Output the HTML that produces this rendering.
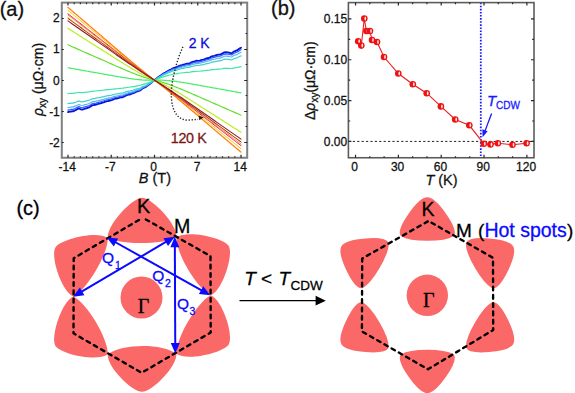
<!DOCTYPE html><html><head><meta charset="utf-8"><style>html,body{margin:0;padding:0;background:#fff;overflow:hidden}svg{display:block}text{font-family:"Liberation Sans",sans-serif;stroke-width:0.28px}</style></head><body>
<svg width="575" height="393" viewBox="0 0 575 393">
<rect width="575" height="393" fill="#fff"/>
<g fill="none" stroke-linejoin="round" stroke-linecap="round">
<polyline points="67.98,112.06 69.06,111.77 70.14,111.63 71.22,111.47 72.31,111.32 73.39,111.25 74.47,110.63 75.55,110.10 76.63,109.54 77.71,108.94 78.79,108.38 79.88,108.92 80.96,109.32 82.04,109.61 83.12,109.30 84.20,108.93 85.28,108.53 86.37,108.41 87.45,107.86 88.53,107.57 89.61,107.03 90.69,106.33 91.77,105.66 92.85,105.15 93.94,105.02 95.02,104.81 96.10,104.52 97.18,104.08 98.26,103.86 99.34,103.54 100.42,103.35 101.51,102.98 102.59,102.64 103.67,102.30 104.75,101.82 105.83,101.56 106.91,101.09 108.00,100.98 109.08,100.73 110.16,100.60 111.24,100.21 112.32,99.81 113.40,99.35 114.48,98.94 115.57,98.60 116.65,98.48 117.73,98.32 118.81,97.88 119.89,97.49 120.97,97.31 122.05,97.24 123.14,97.01 124.22,96.36 125.30,95.94 126.38,95.24 127.46,94.94 128.54,94.54 129.63,94.49 130.71,94.07 131.79,93.71 132.87,93.34 133.95,92.96 135.03,92.48 136.11,91.77 137.20,91.36 138.28,91.21 139.36,90.72 140.44,90.35 141.52,89.27 142.60,88.56 143.69,87.80 144.77,87.36 145.85,86.89 146.93,86.05 148.01,85.22 149.09,84.39 150.17,83.62 151.26,82.71 152.34,81.86 153.42,81.01 154.50,80.17 155.58,79.30 156.66,78.43 157.74,77.61 158.83,76.82 159.91,76.10 160.99,75.34 162.07,74.52 163.15,73.79 164.23,73.05 165.31,72.54 166.40,71.93 167.48,71.25 168.56,70.65 169.64,70.10 170.72,69.62 171.80,69.00 172.89,68.37 173.97,67.96 175.05,67.81 176.13,67.41 177.21,66.97 178.29,66.24 179.37,66.04 180.46,65.43 181.54,65.35 182.62,64.81 183.70,64.77 184.78,64.35 185.86,64.01 186.94,63.73 188.03,63.64 189.11,63.57 190.19,63.17 191.27,62.30 192.35,62.03 193.43,61.79 194.52,61.58 195.60,61.03 196.68,60.77 197.76,60.83 198.84,60.83 199.92,60.59 201.00,60.16 202.09,59.93 203.17,59.76 204.25,59.38 205.33,58.86 206.41,58.46 207.49,58.25 208.57,58.02 209.66,57.52 210.74,56.97 211.82,56.33 212.90,56.07 213.98,55.89 215.06,55.68 216.15,55.26 217.23,54.89 218.31,54.63 219.39,54.64 220.47,54.48 221.55,53.98 222.63,53.37 223.72,52.64 224.80,52.32 225.88,52.29 226.96,52.35 228.04,52.42 229.12,52.63 230.20,53.00 231.29,53.26 232.37,52.78 233.45,51.89 234.53,51.28 235.61,50.84 236.69,50.45 237.78,49.88 238.86,49.00 239.94,48.33 241.02,47.77" stroke="#0814d8" stroke-width="1.9"/>
<polyline points="67.98,110.06 69.06,109.78 70.14,109.66 71.22,109.51 72.31,109.36 73.39,109.30 74.47,108.72 75.55,108.22 76.63,107.70 77.71,107.14 78.79,106.62 79.88,107.12 80.96,107.49 82.04,107.76 83.12,107.47 84.20,107.12 85.28,106.75 86.37,106.64 87.45,106.12 88.53,105.86 89.61,105.35 90.69,104.70 91.77,104.07 92.85,103.60 93.94,103.47 95.02,103.27 96.10,103.01 97.18,102.59 98.26,102.38 99.34,102.09 100.42,101.91 101.51,101.56 102.59,101.25 103.67,100.93 104.75,100.48 105.83,100.24 106.91,99.79 108.00,99.70 109.08,99.46 110.16,99.34 111.24,98.97 112.32,98.60 113.40,98.17 114.48,97.79 115.57,97.47 116.65,97.36 117.73,97.20 118.81,96.80 119.89,96.43 120.97,96.26 122.05,96.19 123.14,95.97 124.22,95.37 125.30,94.98 126.38,94.32 127.46,94.04 128.54,93.66 129.63,93.62 130.71,93.22 131.79,92.89 132.87,92.54 133.95,92.18 135.03,91.73 136.11,91.07 137.20,90.68 138.28,90.54 139.36,90.08 140.44,89.73 141.52,88.72 142.60,88.05 143.69,87.34 144.77,86.93 145.85,86.48 146.93,85.69 148.01,84.92 149.09,84.14 150.17,83.41 151.26,82.56 152.34,81.76 153.42,80.96 154.50,80.17 155.58,79.35 156.66,78.53 157.74,77.76 158.83,77.02 159.91,76.34 160.99,75.62 162.07,74.85 163.15,74.16 164.23,73.47 165.31,72.99 166.40,72.41 167.48,71.77 168.56,71.21 169.64,70.69 170.72,70.24 171.80,69.66 172.89,69.07 173.97,68.68 175.05,68.54 176.13,68.16 177.21,67.75 178.29,67.06 179.37,66.88 180.46,66.30 181.54,66.23 182.62,65.72 183.70,65.69 184.78,65.29 185.86,64.97 186.94,64.70 188.03,64.62 189.11,64.55 190.19,64.18 191.27,63.36 192.35,63.11 193.43,62.88 194.52,62.69 195.60,62.17 196.68,61.93 197.76,61.98 198.84,61.98 199.92,61.75 201.00,61.35 202.09,61.13 203.17,60.97 204.25,60.62 205.33,60.13 206.41,59.75 207.49,59.56 208.57,59.34 209.66,58.87 210.74,58.36 211.82,57.76 212.90,57.51 213.98,57.35 215.06,57.15 216.15,56.76 217.23,56.40 218.31,56.16 219.39,56.17 220.47,56.02 221.55,55.55 222.63,54.98 223.72,54.30 224.80,54.00 225.88,53.97 226.96,54.02 228.04,54.08 229.12,54.28 230.20,54.61 231.29,54.85 232.37,54.41 233.45,53.58 234.53,53.00 235.61,52.60 236.69,52.23 237.78,51.70 238.86,50.88 239.94,50.25 241.02,49.72" stroke="#3060ff" stroke-width="1.3"/>
<polyline points="67.98,107.60 69.06,107.35 70.14,107.23 71.22,107.09 72.31,106.96 73.39,106.91 74.47,106.37 75.55,105.92 76.63,105.45 77.71,104.93 78.79,104.46 79.88,104.92 80.96,105.26 82.04,105.51 83.12,105.24 84.20,104.93 85.28,104.58 86.37,104.48 87.45,104.02 88.53,103.77 89.61,103.31 90.69,102.71 91.77,102.14 92.85,101.71 93.94,101.60 95.02,101.42 96.10,101.18 97.18,100.80 98.26,100.61 99.34,100.34 100.42,100.18 101.51,99.86 102.59,99.57 103.67,99.28 104.75,98.88 105.83,98.65 106.91,98.25 108.00,98.16 109.08,97.94 110.16,97.83 111.24,97.50 112.32,97.16 113.40,96.77 114.48,96.42 115.57,96.13 116.65,96.03 117.73,95.89 118.81,95.52 119.89,95.18 120.97,95.03 122.05,94.97 123.14,94.77 124.22,94.21 125.30,93.86 126.38,93.25 127.46,93.00 128.54,92.66 129.63,92.62 130.71,92.25 131.79,91.94 132.87,91.62 133.95,91.30 135.03,90.88 136.11,90.27 137.20,89.92 138.28,89.78 139.36,89.36 140.44,89.03 141.52,88.10 142.60,87.49 143.69,86.83 144.77,86.45 145.85,86.02 146.93,85.30 148.01,84.58 149.09,83.85 150.17,83.18 151.26,82.39 152.34,81.65 153.42,80.91 154.50,80.17 155.58,79.41 156.66,78.65 157.74,77.93 158.83,77.25 159.91,76.61 160.99,75.95 162.07,75.24 163.15,74.60 164.23,73.96 165.31,73.51 166.40,72.98 167.48,72.39 168.56,71.88 169.64,71.39 170.72,70.98 171.80,70.45 172.89,69.90 173.97,69.55 175.05,69.41 176.13,69.07 177.21,68.69 178.29,68.06 179.37,67.90 180.46,67.37 181.54,67.30 182.62,66.84 183.70,66.81 184.78,66.44 185.86,66.15 186.94,65.91 188.03,65.84 189.11,65.78 190.19,65.43 191.27,64.69 192.35,64.46 193.43,64.25 194.52,64.08 195.60,63.61 196.68,63.39 197.76,63.44 198.84,63.44 199.92,63.23 201.00,62.87 202.09,62.67 203.17,62.52 204.25,62.20 205.33,61.76 206.41,61.42 207.49,61.25 208.57,61.04 209.66,60.62 210.74,60.16 211.82,59.61 212.90,59.38 213.98,59.23 215.06,59.05 216.15,58.70 217.23,58.38 218.31,58.16 219.39,58.16 220.47,58.03 221.55,57.60 222.63,57.09 223.72,56.47 224.80,56.20 225.88,56.17 226.96,56.22 228.04,56.28 229.12,56.46 230.20,56.77 231.29,56.99 232.37,56.59 233.45,55.83 234.53,55.30 235.61,54.93 236.69,54.60 237.78,54.11 238.86,53.37 239.94,52.80 241.02,52.32" stroke="#5ab4f4" stroke-width="1.2"/>
<polyline points="67.98,103.59 69.06,103.38 70.14,103.29 71.22,103.18 72.31,103.08 73.39,103.04 74.47,102.58 75.55,102.20 76.63,101.79 77.71,101.35 78.79,100.95 79.88,101.36 80.96,101.68 82.04,101.91 83.12,101.68 84.20,101.42 85.28,101.13 86.37,101.05 87.45,100.65 88.53,100.45 89.61,100.06 90.69,99.54 91.77,99.05 92.85,98.68 93.94,98.59 95.02,98.45 96.10,98.25 97.18,97.93 98.26,97.77 99.34,97.55 100.42,97.41 101.51,97.15 102.59,96.91 103.67,96.66 104.75,96.32 105.83,96.13 106.91,95.79 108.00,95.72 109.08,95.54 110.16,95.46 111.24,95.18 112.32,94.89 113.40,94.56 114.48,94.26 115.57,94.02 116.65,93.94 117.73,93.83 118.81,93.51 119.89,93.23 120.97,93.11 122.05,93.06 123.14,92.90 124.22,92.42 125.30,92.12 126.38,91.60 127.46,91.38 128.54,91.09 129.63,91.07 130.71,90.75 131.79,90.49 132.87,90.22 133.95,89.94 135.03,89.58 136.11,89.05 137.20,88.75 138.28,88.63 139.36,88.26 140.44,87.98 141.52,87.17 142.60,86.63 143.69,86.06 144.77,85.72 145.85,85.35 146.93,84.71 148.01,84.07 149.09,83.43 150.17,82.83 151.26,82.14 152.34,81.48 153.42,80.82 154.50,80.17 155.58,79.49 156.66,78.81 157.74,78.17 158.83,77.56 159.91,76.99 160.99,76.40 162.07,75.76 163.15,75.19 164.23,74.62 165.31,74.23 166.40,73.75 167.48,73.23 168.56,72.77 169.64,72.35 170.72,71.98 171.80,71.51 172.89,71.04 173.97,70.72 175.05,70.60 176.13,70.31 177.21,69.97 178.29,69.42 179.37,69.28 180.46,68.82 181.54,68.76 182.62,68.36 183.70,68.34 184.78,68.02 185.86,67.77 186.94,67.56 188.03,67.50 189.11,67.45 190.19,67.16 191.27,66.51 192.35,66.31 193.43,66.13 194.52,65.99 195.60,65.57 196.68,65.39 197.76,65.44 198.84,65.45 199.92,65.27 201.00,64.95 202.09,64.78 203.17,64.66 204.25,64.38 205.33,64.00 206.41,63.70 207.49,63.56 208.57,63.38 209.66,63.01 210.74,62.61 211.82,62.13 212.90,61.94 213.98,61.82 215.06,61.66 216.15,61.36 217.23,61.08 218.31,60.89 219.39,60.90 220.47,60.79 221.55,60.42 222.63,59.97 223.72,59.43 224.80,59.20 225.88,59.18 226.96,59.23 228.04,59.29 229.12,59.45 230.20,59.73 231.29,59.93 232.37,59.59 233.45,58.92 234.53,58.47 235.61,58.14 236.69,57.86 237.78,57.44 238.86,56.78 239.94,56.29 241.02,55.87" stroke="#3cd0c8" stroke-width="1.2"/>
<polyline points="67.98,93.60 69.06,93.50 70.14,93.44 71.22,93.38 72.31,93.32 73.39,93.28 74.47,93.07 75.55,92.90 76.63,92.72 77.71,92.52 78.79,92.34 79.88,92.48 80.96,92.58 82.04,92.66 83.12,92.54 84.20,92.42 85.28,92.28 86.37,92.23 87.45,92.05 88.53,91.94 89.61,91.76 90.69,91.54 91.77,91.32 92.85,91.15 93.94,91.09 95.02,91.01 96.10,90.91 97.18,90.76 98.26,90.68 99.34,90.57 100.42,90.49 101.51,90.36 102.59,90.24 103.67,90.12 104.75,89.96 105.83,89.87 106.91,89.71 108.00,89.66 109.08,89.56 110.16,89.51 111.24,89.37 112.32,89.23 113.40,89.07 114.48,88.93 115.57,88.81 116.65,88.75 117.73,88.68 118.81,88.53 119.89,88.38 120.97,88.31 122.05,88.26 123.14,88.16 124.22,87.94 125.30,87.78 126.38,87.54 127.46,87.41 128.54,87.25 129.63,87.20 130.71,87.03 131.79,86.87 132.87,86.71 133.95,86.54 135.03,86.33 136.11,86.05 137.20,85.85 138.28,85.72 139.36,85.49 140.44,85.28 141.52,84.85 142.60,84.52 143.69,84.17 144.77,83.90 145.85,83.61 146.93,83.21 148.01,82.80 149.09,82.38 150.17,81.97 151.26,81.51 152.34,81.07 153.42,80.62 154.50,80.17 155.58,79.72 156.66,79.27 157.74,78.83 158.83,78.42 159.91,78.02 160.99,77.63 162.07,77.22 163.15,76.85 164.23,76.48 165.31,76.20 166.40,75.89 167.48,75.58 168.56,75.29 169.64,75.03 170.72,74.80 171.80,74.53 172.89,74.27 173.97,74.08 175.05,73.97 176.13,73.80 177.21,73.61 178.29,73.35 179.37,73.25 180.46,73.02 181.54,72.96 182.62,72.77 183.70,72.73 184.78,72.57 185.86,72.44 186.94,72.33 188.03,72.28 189.11,72.24 190.19,72.09 191.27,71.81 192.35,71.71 193.43,71.62 194.52,71.54 195.60,71.35 196.68,71.26 197.76,71.26 198.84,71.24 199.92,71.15 201.00,71.01 202.09,70.92 203.17,70.85 204.25,70.72 205.33,70.55 206.41,70.41 207.49,70.34 208.57,70.25 209.66,70.09 210.74,69.91 211.82,69.70 212.90,69.60 213.98,69.54 215.06,69.46 216.15,69.32 217.23,69.19 218.31,69.10 219.39,69.09 220.47,69.02 221.55,68.86 222.63,68.66 223.72,68.43 224.80,68.32 225.88,68.29 226.96,68.30 228.04,68.30 229.12,68.35 230.20,68.45 231.29,68.51 232.37,68.35 233.45,68.07 234.53,67.87 235.61,67.72 236.69,67.59 237.78,67.41 238.86,67.13 239.94,66.91 241.02,66.73" stroke="#3ae6a8" stroke-width="1.2"/>
<polyline points="67.98,67.76 69.06,67.96 70.14,68.15 71.22,68.34 72.31,68.53 73.39,68.72 74.47,68.92 75.55,69.11 76.63,69.30 77.71,69.49 78.79,69.69 79.88,69.88 80.96,70.07 82.04,70.26 83.12,70.46 84.20,70.65 85.28,70.84 86.37,71.03 87.45,71.22 88.53,71.42 89.61,71.61 90.69,71.80 91.77,71.99 92.85,72.19 93.94,72.38 95.02,72.57 96.10,72.76 97.18,72.95 98.26,73.15 99.34,73.34 100.42,73.53 101.51,73.72 102.59,73.91 103.67,74.10 104.75,74.29 105.83,74.49 106.91,74.68 108.00,74.87 109.08,75.06 110.16,75.25 111.24,75.44 112.32,75.63 113.40,75.81 114.48,76.00 115.57,76.19 116.65,76.38 117.73,76.56 118.81,76.75 119.89,76.93 120.97,77.11 122.05,77.29 123.14,77.47 124.22,77.65 125.30,77.83 126.38,78.00 127.46,78.17 128.54,78.34 129.63,78.50 130.71,78.66 131.79,78.81 132.87,78.96 133.95,79.11 135.03,79.25 136.11,79.38 137.20,79.50 138.28,79.62 139.36,79.72 140.44,79.82 141.52,79.91 142.60,79.99 143.69,80.05 144.77,80.11 145.85,80.15 146.93,80.18 148.01,80.20 149.09,80.22 150.17,80.22 151.26,80.21 152.34,80.20 153.42,80.19 154.50,80.17 155.58,80.16 156.66,80.15 157.74,80.15 158.83,80.15 159.91,80.15 160.99,80.17 162.07,80.20 163.15,80.23 164.23,80.28 165.31,80.34 166.40,80.41 167.48,80.49 168.56,80.58 169.64,80.68 170.72,80.79 171.80,80.91 172.89,81.04 173.97,81.17 175.05,81.31 176.13,81.46 177.21,81.62 178.29,81.78 179.37,81.94 180.46,82.11 181.54,82.28 182.62,82.45 183.70,82.63 184.78,82.81 185.86,82.99 186.94,83.17 188.03,83.36 189.11,83.54 190.19,83.73 191.27,83.92 192.35,84.11 193.43,84.30 194.52,84.49 195.60,84.68 196.68,84.88 197.76,85.07 198.84,85.26 199.92,85.46 201.00,85.65 202.09,85.84 203.17,86.04 204.25,86.23 205.33,86.43 206.41,86.62 207.49,86.82 208.57,87.01 209.66,87.21 210.74,87.41 211.82,87.60 212.90,87.80 213.98,87.99 215.06,88.19 216.15,88.39 217.23,88.58 218.31,88.78 219.39,88.97 220.47,89.17 221.55,89.37 222.63,89.56 223.72,89.76 224.80,89.95 225.88,90.15 226.96,90.35 228.04,90.54 229.12,90.74 230.20,90.93 231.29,91.13 232.37,91.33 233.45,91.52 234.53,91.72 235.61,91.92 236.69,92.11 237.78,92.31 238.86,92.50 239.94,92.70 241.02,92.90" stroke="#44ee66" stroke-width="1.2"/>
<polyline points="67.98,44.80 69.06,45.28 70.14,45.76 71.22,46.23 72.31,46.71 73.39,47.19 74.47,47.67 75.55,48.14 76.63,48.62 77.71,49.10 78.79,49.58 79.88,50.05 80.96,50.53 82.04,51.01 83.12,51.48 84.20,51.96 85.28,52.44 86.37,52.92 87.45,53.39 88.53,53.87 89.61,54.35 90.69,54.83 91.77,55.30 92.85,55.78 93.94,56.26 95.02,56.74 96.10,57.21 97.18,57.69 98.26,58.17 99.34,58.64 100.42,59.12 101.51,59.60 102.59,60.07 103.67,60.55 104.75,61.03 105.83,61.50 106.91,61.98 108.00,62.45 109.08,62.93 110.16,63.40 111.24,63.88 112.32,64.35 113.40,64.83 114.48,65.30 115.57,65.77 116.65,66.25 117.73,66.72 118.81,67.19 119.89,67.66 120.97,68.12 122.05,68.59 123.14,69.06 124.22,69.52 125.30,69.98 126.38,70.44 127.46,70.90 128.54,71.35 129.63,71.80 130.71,72.25 131.79,72.69 132.87,73.13 133.95,73.56 135.03,73.98 136.11,74.40 137.20,74.82 138.28,75.22 139.36,75.62 140.44,76.00 141.52,76.38 142.60,76.75 143.69,77.11 144.77,77.45 145.85,77.79 146.93,78.12 148.01,78.43 149.09,78.74 150.17,79.04 151.26,79.33 152.34,79.61 153.42,79.89 154.50,80.17 155.58,80.45 156.66,80.73 157.74,81.01 158.83,81.30 159.91,81.59 160.99,81.90 162.07,82.21 163.15,82.53 164.23,82.86 165.31,83.20 166.40,83.56 167.48,83.92 168.56,84.30 169.64,84.68 170.72,85.07 171.80,85.47 172.89,85.88 173.97,86.30 175.05,86.72 176.13,87.15 177.21,87.58 178.29,88.02 179.37,88.46 180.46,88.91 181.54,89.36 182.62,89.81 183.70,90.26 184.78,90.72 185.86,91.18 186.94,91.64 188.03,92.11 189.11,92.57 190.19,93.03 191.27,93.50 192.35,93.97 193.43,94.44 194.52,94.91 195.60,95.38 196.68,95.85 197.76,96.32 198.84,96.79 199.92,97.26 201.00,97.73 202.09,98.20 203.17,98.67 204.25,99.15 205.33,99.62 206.41,100.09 207.49,100.56 208.57,101.04 209.66,101.51 210.74,101.98 211.82,102.46 212.90,102.93 213.98,103.40 215.06,103.87 216.15,104.35 217.23,104.82 218.31,105.29 219.39,105.77 220.47,106.24 221.55,106.72 222.63,107.19 223.72,107.66 224.80,108.14 225.88,108.61 226.96,109.08 228.04,109.56 229.12,110.03 230.20,110.50 231.29,110.98 232.37,111.45 233.45,111.92 234.53,112.40 235.61,112.87 236.69,113.34 237.78,113.82 238.86,114.29 239.94,114.77 241.02,115.24" stroke="#66dd33" stroke-width="1.2"/>
<polyline points="67.98,28.35 69.06,29.04 70.14,29.73 71.22,30.41 72.31,31.10 73.39,31.79 74.47,32.47 75.55,33.16 76.63,33.85 77.71,34.53 78.79,35.22 79.88,35.91 80.96,36.59 82.04,37.28 83.12,37.97 84.20,38.65 85.28,39.34 86.37,40.03 87.45,40.71 88.53,41.40 89.61,42.08 90.69,42.77 91.77,43.46 92.85,44.14 93.94,44.83 95.02,45.52 96.10,46.20 97.18,46.89 98.26,47.57 99.34,48.26 100.42,48.95 101.51,49.63 102.59,50.32 103.67,51.00 104.75,51.69 105.83,52.37 106.91,53.06 108.00,53.74 109.08,54.43 110.16,55.11 111.24,55.79 112.32,56.48 113.40,57.16 114.48,57.84 115.57,58.52 116.65,59.20 117.73,59.88 118.81,60.56 119.89,61.24 120.97,61.92 122.05,62.59 123.14,63.26 124.22,63.93 125.30,64.60 126.38,65.27 127.46,65.93 128.54,66.59 129.63,67.25 130.71,67.90 131.79,68.55 132.87,69.19 133.95,69.83 135.03,70.46 136.11,71.08 137.20,71.70 138.28,72.30 139.36,72.90 140.44,73.49 141.52,74.06 142.60,74.63 143.69,75.18 144.77,75.73 145.85,76.26 146.93,76.78 148.01,77.29 149.09,77.79 150.17,78.28 151.26,78.76 152.34,79.23 153.42,79.71 154.50,80.17 155.58,80.65 156.66,81.12 157.74,81.60 158.83,82.09 159.91,82.58 160.99,83.09 162.07,83.60 163.15,84.12 164.23,84.66 165.31,85.20 166.40,85.76 167.48,86.33 168.56,86.91 169.64,87.50 170.72,88.11 171.80,88.72 172.89,89.33 173.97,89.96 175.05,90.60 176.13,91.24 177.21,91.88 178.29,92.53 179.37,93.19 180.46,93.85 181.54,94.51 182.62,95.18 183.70,95.85 184.78,96.52 185.86,97.20 186.94,97.88 188.03,98.55 189.11,99.23 190.19,99.92 191.27,100.60 192.35,101.28 193.43,101.97 194.52,102.65 195.60,103.34 196.68,104.02 197.76,104.71 198.84,105.40 199.92,106.09 201.00,106.77 202.09,107.46 203.17,108.15 204.25,108.84 205.33,109.53 206.41,110.22 207.49,110.91 208.57,111.60 209.66,112.29 210.74,112.98 211.82,113.67 212.90,114.36 213.98,115.05 215.06,115.74 216.15,116.43 217.23,117.12 218.31,117.81 219.39,118.50 220.47,119.19 221.55,119.88 222.63,120.57 223.72,121.26 224.80,121.95 225.88,122.64 226.96,123.33 228.04,124.02 229.12,124.71 230.20,125.40 231.29,126.09 232.37,126.78 233.45,127.47 234.53,128.16 235.61,128.85 236.69,129.54 237.78,130.23 238.86,130.92 239.94,131.61 241.02,132.31" stroke="#bbee22" stroke-width="1.2"/>
<polyline points="67.98,17.49 69.06,18.29 70.14,19.09 71.22,19.89 72.31,20.69 73.39,21.49 74.47,22.29 75.55,23.09 76.63,23.89 77.71,24.69 78.79,25.48 79.88,26.28 80.96,27.08 82.04,27.88 83.12,28.68 84.20,29.48 85.28,30.28 86.37,31.08 87.45,31.88 88.53,32.68 89.61,33.47 90.69,34.27 91.77,35.07 92.85,35.87 93.94,36.67 95.02,37.47 96.10,38.27 97.18,39.07 98.26,39.87 99.34,40.66 100.42,41.46 101.51,42.26 102.59,43.06 103.67,43.86 104.75,44.66 105.83,45.46 106.91,46.25 108.00,47.05 109.08,47.85 110.16,48.65 111.24,49.45 112.32,50.24 113.40,51.04 114.48,51.84 115.57,52.64 116.65,53.43 117.73,54.23 118.81,55.02 119.89,55.82 120.97,56.61 122.05,57.41 123.14,58.20 124.22,59.00 125.30,59.79 126.38,60.58 127.46,61.37 128.54,62.16 129.63,62.94 130.71,63.73 131.79,64.51 132.87,65.29 133.95,66.07 135.03,66.85 136.11,67.62 137.20,68.39 138.28,69.16 139.36,69.92 140.44,70.68 141.52,71.44 142.60,72.19 143.69,72.93 144.77,73.68 145.85,74.41 146.93,75.15 148.01,75.87 149.09,76.60 150.17,77.32 151.26,78.03 152.34,78.75 153.42,79.46 154.50,80.17 155.58,80.88 156.66,81.58 157.74,82.29 158.83,83.00 159.91,83.71 160.99,84.43 162.07,85.15 163.15,85.87 164.23,86.60 165.31,87.34 166.40,88.08 167.48,88.82 168.56,89.57 169.64,90.32 170.72,91.07 171.80,91.83 172.89,92.60 173.97,93.36 175.05,94.13 176.13,94.90 177.21,95.68 178.29,96.45 179.37,97.23 180.46,98.01 181.54,98.79 182.62,99.57 183.70,100.35 184.78,101.14 185.86,101.92 186.94,102.71 188.03,103.49 189.11,104.28 190.19,105.07 191.27,105.86 192.35,106.65 193.43,107.44 194.52,108.22 195.60,109.01 196.68,109.80 197.76,110.59 198.84,111.38 199.92,112.17 201.00,112.96 202.09,113.75 203.17,114.55 204.25,115.34 205.33,116.13 206.41,116.92 207.49,117.71 208.57,118.50 209.66,119.29 210.74,120.08 211.82,120.87 212.90,121.66 213.98,122.45 215.06,123.25 216.15,124.04 217.23,124.83 218.31,125.62 219.39,126.41 220.47,127.20 221.55,127.99 222.63,128.78 223.72,129.58 224.80,130.37 225.88,131.16 226.96,131.95 228.04,132.74 229.12,133.53 230.20,134.32 231.29,135.11 232.37,135.90 233.45,136.70 234.53,137.49 235.61,138.28 236.69,139.07 237.78,139.86 238.86,140.65 239.94,141.44 241.02,142.24" stroke="#e0d800" stroke-width="1.0"/>
<polyline points="67.98,10.36 69.06,11.25 70.14,12.13 71.22,13.02 72.31,13.91 73.39,14.80 74.47,15.69 75.55,16.58 76.63,17.46 77.71,18.35 78.79,19.24 79.88,20.13 80.96,21.02 82.04,21.90 83.12,22.79 84.20,23.68 85.28,24.57 86.37,25.46 87.45,26.35 88.53,27.23 89.61,28.12 90.69,29.01 91.77,29.90 92.85,30.79 93.94,31.67 95.02,32.56 96.10,33.45 97.18,34.34 98.26,35.23 99.34,36.11 100.42,37.00 101.51,37.89 102.59,38.78 103.67,39.67 104.75,40.55 105.83,41.44 106.91,42.33 108.00,43.22 109.08,44.10 110.16,44.99 111.24,45.88 112.32,46.76 113.40,47.65 114.48,48.54 115.57,49.42 116.65,50.31 117.73,51.20 118.81,52.08 119.89,52.96 120.97,53.85 122.05,54.73 123.14,55.62 124.22,56.50 125.30,57.38 126.38,58.26 127.46,59.14 128.54,60.02 129.63,60.89 130.71,61.77 131.79,62.64 132.87,63.51 133.95,64.38 135.03,65.24 136.11,66.11 137.20,66.97 138.28,67.82 139.36,68.67 140.44,69.52 141.52,70.37 142.60,71.21 143.69,72.04 144.77,72.87 145.85,73.70 146.93,74.52 148.01,75.34 149.09,76.15 150.17,76.96 151.26,77.77 152.34,78.57 153.42,79.37 154.50,80.17 155.58,80.96 156.66,81.75 157.74,82.54 158.83,83.33 159.91,84.12 160.99,84.92 162.07,85.72 163.15,86.53 164.23,87.34 165.31,88.15 166.40,88.97 167.48,89.80 168.56,90.63 169.64,91.46 170.72,92.30 171.80,93.14 172.89,93.98 173.97,94.83 175.05,95.68 176.13,96.53 177.21,97.39 178.29,98.24 179.37,99.10 180.46,99.96 181.54,100.82 182.62,101.69 183.70,102.55 184.78,103.42 185.86,104.28 186.94,105.15 188.03,106.02 189.11,106.89 190.19,107.76 191.27,108.63 192.35,109.50 193.43,110.37 194.52,111.24 195.60,112.11 196.68,112.98 197.76,113.85 198.84,114.72 199.92,115.59 201.00,116.47 202.09,117.34 203.17,118.21 204.25,119.08 205.33,119.96 206.41,120.83 207.49,121.70 208.57,122.57 209.66,123.44 210.74,124.32 211.82,125.19 212.90,126.06 213.98,126.93 215.06,127.81 216.15,128.68 217.23,129.55 218.31,130.42 219.39,131.30 220.47,132.17 221.55,133.04 222.63,133.92 223.72,134.79 224.80,135.66 225.88,136.53 226.96,137.41 228.04,138.28 229.12,139.15 230.20,140.02 231.29,140.90 232.37,141.77 233.45,142.64 234.53,143.52 235.61,144.39 236.69,145.26 237.78,146.13 238.86,147.01 239.94,147.88 241.02,148.75" stroke="#ffc000" stroke-width="1.0"/>
<polyline points="67.98,7.41 69.06,8.33 70.14,9.26 71.22,10.18 72.31,11.11 73.39,12.04 74.47,12.96 75.55,13.89 76.63,14.81 77.71,15.74 78.79,16.66 79.88,17.59 80.96,18.51 82.04,19.44 83.12,20.36 84.20,21.29 85.28,22.21 86.37,23.14 87.45,24.06 88.53,24.99 89.61,25.91 90.69,26.84 91.77,27.76 92.85,28.69 93.94,29.61 95.02,30.54 96.10,31.46 97.18,32.39 98.26,33.31 99.34,34.24 100.42,35.16 101.51,36.08 102.59,37.01 103.67,37.93 104.75,38.86 105.83,39.78 106.91,40.71 108.00,41.63 109.08,42.56 110.16,43.48 111.24,44.40 112.32,45.33 113.40,46.25 114.48,47.17 115.57,48.10 116.65,49.02 117.73,49.94 118.81,50.86 119.89,51.79 120.97,52.71 122.05,53.63 123.14,54.55 124.22,55.47 125.30,56.38 126.38,57.30 127.46,58.22 128.54,59.13 129.63,60.04 130.71,60.96 131.79,61.86 132.87,62.77 133.95,63.68 135.03,64.58 136.11,65.48 137.20,66.38 138.28,67.27 139.36,68.16 140.44,69.04 141.52,69.93 142.60,70.80 143.69,71.67 144.77,72.54 145.85,73.40 146.93,74.26 148.01,75.12 149.09,75.97 150.17,76.81 151.26,77.66 152.34,78.50 153.42,79.34 154.50,80.17 155.58,81.00 156.66,81.83 157.74,82.66 158.83,83.50 159.91,84.33 160.99,85.17 162.07,86.02 163.15,86.87 164.23,87.72 165.31,88.58 166.40,89.44 167.48,90.31 168.56,91.18 169.64,92.06 170.72,92.94 171.80,93.82 172.89,94.71 173.97,95.60 175.05,96.49 176.13,97.38 177.21,98.28 178.29,99.18 179.37,100.08 180.46,100.99 181.54,101.89 182.62,102.80 183.70,103.70 184.78,104.61 185.86,105.52 186.94,106.43 188.03,107.34 189.11,108.25 190.19,109.17 191.27,110.08 192.35,110.99 193.43,111.90 194.52,112.82 195.60,113.73 196.68,114.64 197.76,115.56 198.84,116.47 199.92,117.39 201.00,118.30 202.09,119.22 203.17,120.13 204.25,121.05 205.33,121.96 206.41,122.88 207.49,123.79 208.57,124.71 209.66,125.62 210.74,126.54 211.82,127.45 212.90,128.37 213.98,129.28 215.06,130.20 216.15,131.11 217.23,132.03 218.31,132.94 219.39,133.86 220.47,134.77 221.55,135.69 222.63,136.60 223.72,137.52 224.80,138.43 225.88,139.35 226.96,140.26 228.04,141.18 229.12,142.10 230.20,143.01 231.29,143.93 232.37,144.84 233.45,145.76 234.53,146.67 235.61,147.59 236.69,148.50 237.78,149.42 238.86,150.33 239.94,151.25 241.02,152.16" stroke="#ff7c00" stroke-width="1.2"/>
<polyline points="67.98,13.77 69.06,14.62 70.14,15.46 71.22,16.31 72.31,17.15 73.39,18.00 74.47,18.84 75.55,19.69 76.63,20.54 77.71,21.38 78.79,22.23 79.88,23.07 80.96,23.92 82.04,24.76 83.12,25.61 84.20,26.45 85.28,27.30 86.37,28.15 87.45,28.99 88.53,29.84 89.61,30.68 90.69,31.53 91.77,32.37 92.85,33.22 93.94,34.06 95.02,34.91 96.10,35.75 97.18,36.60 98.26,37.45 99.34,38.29 100.42,39.14 101.51,39.98 102.59,40.83 103.67,41.67 104.75,42.52 105.83,43.36 106.91,44.21 108.00,45.05 109.08,45.90 110.16,46.74 111.24,47.58 112.32,48.43 113.40,49.27 114.48,50.12 115.57,50.96 116.65,51.80 117.73,52.65 118.81,53.49 119.89,54.33 120.97,55.17 122.05,56.01 123.14,56.85 124.22,57.69 125.30,58.53 126.38,59.37 127.46,60.20 128.54,61.04 129.63,61.87 130.71,62.70 131.79,63.53 132.87,64.36 133.95,65.19 135.03,66.01 136.11,66.83 137.20,67.65 138.28,68.46 139.36,69.27 140.44,70.08 141.52,70.88 142.60,71.68 143.69,72.47 144.77,73.26 145.85,74.04 146.93,74.82 148.01,75.59 149.09,76.36 150.17,77.13 151.26,77.90 152.34,78.66 153.42,79.42 154.50,80.17 155.58,80.92 156.66,81.67 157.74,82.42 158.83,83.17 159.91,83.93 160.99,84.69 162.07,85.45 163.15,86.22 164.23,86.99 165.31,87.76 166.40,88.55 167.48,89.33 168.56,90.12 169.64,90.92 170.72,91.71 171.80,92.52 172.89,93.32 173.97,94.13 175.05,94.94 176.13,95.75 177.21,96.57 178.29,97.39 179.37,98.21 180.46,99.03 181.54,99.85 182.62,100.68 183.70,101.51 184.78,102.33 185.86,103.16 186.94,103.99 188.03,104.82 189.11,105.65 190.19,106.48 191.27,107.31 192.35,108.14 193.43,108.97 194.52,109.80 195.60,110.64 196.68,111.47 197.76,112.30 198.84,113.13 199.92,113.97 201.00,114.80 202.09,115.63 203.17,116.47 204.25,117.30 205.33,118.13 206.41,118.97 207.49,119.80 208.57,120.63 209.66,121.47 210.74,122.30 211.82,123.13 212.90,123.97 213.98,124.80 215.06,125.63 216.15,126.47 217.23,127.30 218.31,128.14 219.39,128.97 220.47,129.80 221.55,130.64 222.63,131.47 223.72,132.31 224.80,133.14 225.88,133.97 226.96,134.81 228.04,135.64 229.12,136.48 230.20,137.31 231.29,138.14 232.37,138.98 233.45,139.81 234.53,140.64 235.61,141.48 236.69,142.31 237.78,143.15 238.86,143.98 239.94,144.81 241.02,145.65" stroke="#e41c1c" stroke-width="1.0"/>
<polyline points="67.98,15.01 69.06,15.84 70.14,16.67 71.22,17.50 72.31,18.33 73.39,19.16 74.47,19.99 75.55,20.82 76.63,21.65 77.71,22.48 78.79,23.31 79.88,24.14 80.96,24.97 82.04,25.80 83.12,26.63 84.20,27.46 85.28,28.29 86.37,29.12 87.45,29.95 88.53,30.78 89.61,31.61 90.69,32.44 91.77,33.27 92.85,34.10 93.94,34.93 95.02,35.76 96.10,36.59 97.18,37.42 98.26,38.25 99.34,39.08 100.42,39.91 101.51,40.74 102.59,41.57 103.67,42.40 104.75,43.23 105.83,44.06 106.91,44.89 108.00,45.72 109.08,46.55 110.16,47.38 111.24,48.20 112.32,49.03 113.40,49.86 114.48,50.69 115.57,51.52 116.65,52.35 117.73,53.17 118.81,54.00 119.89,54.83 120.97,55.65 122.05,56.48 123.14,57.30 124.22,58.13 125.30,58.95 126.38,59.77 127.46,60.59 128.54,61.41 129.63,62.23 130.71,63.05 131.79,63.86 132.87,64.67 133.95,65.48 135.03,66.29 136.11,67.10 137.20,67.90 138.28,68.69 139.36,69.49 140.44,70.28 141.52,71.07 142.60,71.85 143.69,72.62 144.77,73.40 145.85,74.17 146.93,74.93 148.01,75.69 149.09,76.44 150.17,77.19 151.26,77.94 152.34,78.69 153.42,79.43 154.50,80.17 155.58,80.90 156.66,81.63 157.74,82.36 158.83,83.09 159.91,83.83 160.99,84.57 162.07,85.31 163.15,86.06 164.23,86.81 165.31,87.57 166.40,88.33 167.48,89.10 168.56,89.87 169.64,90.64 170.72,91.42 171.80,92.21 172.89,92.99 173.97,93.78 175.05,94.57 176.13,95.37 177.21,96.16 178.29,96.96 179.37,97.76 180.46,98.57 181.54,99.37 182.62,100.18 183.70,100.98 184.78,101.79 185.86,102.60 186.94,103.41 188.03,104.22 189.11,105.03 190.19,105.84 191.27,106.65 192.35,107.46 193.43,108.27 194.52,109.09 195.60,109.90 196.68,110.71 197.76,111.52 198.84,112.34 199.92,113.15 201.00,113.96 202.09,114.78 203.17,115.59 204.25,116.41 205.33,117.22 206.41,118.03 207.49,118.85 208.57,119.66 209.66,120.48 210.74,121.29 211.82,122.11 212.90,122.92 213.98,123.73 215.06,124.55 216.15,125.36 217.23,126.18 218.31,126.99 219.39,127.81 220.47,128.62 221.55,129.44 222.63,130.25 223.72,131.06 224.80,131.88 225.88,132.69 226.96,133.51 228.04,134.32 229.12,135.14 230.20,135.95 231.29,136.77 232.37,137.58 233.45,138.40 234.53,139.21 235.61,140.02 236.69,140.84 237.78,141.65 238.86,142.47 239.94,143.28 241.02,144.10" stroke="#f05050" stroke-width="0.8"/>
<polyline points="67.98,18.43 69.06,19.21 70.14,20.00 71.22,20.79 72.31,21.57 73.39,22.36 74.47,23.15 75.55,23.94 76.63,24.72 77.71,25.51 78.79,26.30 79.88,27.09 80.96,27.87 82.04,28.66 83.12,29.45 84.20,30.24 85.28,31.02 86.37,31.81 87.45,32.60 88.53,33.39 89.61,34.17 90.69,34.96 91.77,35.75 92.85,36.53 93.94,37.32 95.02,38.11 96.10,38.90 97.18,39.68 98.26,40.47 99.34,41.26 100.42,42.04 101.51,42.83 102.59,43.62 103.67,44.41 104.75,45.19 105.83,45.98 106.91,46.77 108.00,47.55 109.08,48.34 110.16,49.13 111.24,49.91 112.32,50.70 113.40,51.48 114.48,52.27 115.57,53.05 116.65,53.84 117.73,54.62 118.81,55.41 119.89,56.19 120.97,56.98 122.05,57.76 123.14,58.54 124.22,59.32 125.30,60.10 126.38,60.88 127.46,61.66 128.54,62.44 129.63,63.21 130.71,63.98 131.79,64.76 132.87,65.53 133.95,66.29 135.03,67.06 136.11,67.82 137.20,68.58 138.28,69.33 139.36,70.09 140.44,70.83 141.52,71.58 142.60,72.32 143.69,73.05 144.77,73.78 145.85,74.51 146.93,75.23 148.01,75.94 149.09,76.66 150.17,77.36 151.26,78.07 152.34,78.77 153.42,79.47 154.50,80.17 155.58,80.88 156.66,81.58 157.74,82.28 158.83,82.99 159.91,83.69 160.99,84.41 162.07,85.12 163.15,85.84 164.23,86.57 165.31,87.30 166.40,88.03 167.48,88.77 168.56,89.52 169.64,90.26 170.72,91.02 171.80,91.77 172.89,92.53 173.97,93.29 175.05,94.06 176.13,94.82 177.21,95.59 178.29,96.37 179.37,97.14 180.46,97.91 181.54,98.69 182.62,99.47 183.70,100.25 184.78,101.03 185.86,101.81 186.94,102.59 188.03,103.37 189.11,104.16 190.19,104.94 191.27,105.73 192.35,106.51 193.43,107.30 194.52,108.08 195.60,108.87 196.68,109.65 197.76,110.44 198.84,111.22 199.92,112.01 201.00,112.80 202.09,113.58 203.17,114.37 204.25,115.16 205.33,115.94 206.41,116.73 207.49,117.52 208.57,118.31 209.66,119.09 210.74,119.88 211.82,120.67 212.90,121.45 213.98,122.24 215.06,123.03 216.15,123.82 217.23,124.60 218.31,125.39 219.39,126.18 220.47,126.96 221.55,127.75 222.63,128.54 223.72,129.33 224.80,130.11 225.88,130.90 226.96,131.69 228.04,132.48 229.12,133.26 230.20,134.05 231.29,134.84 232.37,135.63 233.45,136.41 234.53,137.20 235.61,137.99 236.69,138.78 237.78,139.56 238.86,140.35 239.94,141.14 241.02,141.92" stroke="#b01414" stroke-width="1.0"/>
<polyline points="67.98,20.91 69.06,21.66 70.14,22.42 71.22,23.18 72.31,23.93 73.39,24.69 74.47,25.45 75.55,26.20 76.63,26.96 77.71,27.71 78.79,28.47 79.88,29.23 80.96,29.98 82.04,30.74 83.12,31.50 84.20,32.25 85.28,33.01 86.37,33.77 87.45,34.52 88.53,35.28 89.61,36.03 90.69,36.79 91.77,37.55 92.85,38.30 93.94,39.06 95.02,39.82 96.10,40.57 97.18,41.33 98.26,42.08 99.34,42.84 100.42,43.60 101.51,44.35 102.59,45.11 103.67,45.86 104.75,46.62 105.83,47.38 106.91,48.13 108.00,48.89 109.08,49.64 110.16,50.40 111.24,51.15 112.32,51.91 113.40,52.66 114.48,53.42 115.57,54.17 116.65,54.93 117.73,55.68 118.81,56.43 119.89,57.18 120.97,57.94 122.05,58.69 123.14,59.44 124.22,60.19 125.30,60.94 126.38,61.69 127.46,62.43 128.54,63.18 129.63,63.92 130.71,64.67 131.79,65.41 132.87,66.15 133.95,66.88 135.03,67.62 136.11,68.35 137.20,69.08 138.28,69.80 139.36,70.52 140.44,71.24 141.52,71.95 142.60,72.66 143.69,73.36 144.77,74.06 145.85,74.75 146.93,75.44 148.01,76.13 149.09,76.81 150.17,77.49 151.26,78.16 152.34,78.83 153.42,79.51 154.50,80.17 155.58,80.84 156.66,81.51 157.74,82.18 158.83,82.85 159.91,83.52 160.99,84.20 162.07,84.88 163.15,85.56 164.23,86.25 165.31,86.95 166.40,87.65 167.48,88.35 168.56,89.06 169.64,89.77 170.72,90.49 171.80,91.21 172.89,91.94 173.97,92.66 175.05,93.39 176.13,94.13 177.21,94.86 178.29,95.60 179.37,96.34 180.46,97.08 181.54,97.82 182.62,98.56 183.70,99.31 184.78,100.05 185.86,100.80 186.94,101.54 188.03,102.29 189.11,103.04 190.19,103.79 191.27,104.54 192.35,105.29 193.43,106.04 194.52,106.79 195.60,107.54 196.68,108.29 197.76,109.04 198.84,109.79 199.92,110.54 201.00,111.30 202.09,112.05 203.17,112.80 204.25,113.55 205.33,114.30 206.41,115.06 207.49,115.81 208.57,116.56 209.66,117.31 210.74,118.06 211.82,118.82 212.90,119.57 213.98,120.32 215.06,121.07 216.15,121.83 217.23,122.58 218.31,123.33 219.39,124.08 220.47,124.84 221.55,125.59 222.63,126.34 223.72,127.09 224.80,127.85 225.88,128.60 226.96,129.35 228.04,130.10 229.12,130.85 230.20,131.61 231.29,132.36 232.37,133.11 233.45,133.86 234.53,134.62 235.61,135.37 236.69,136.12 237.78,136.87 238.86,137.63 239.94,138.38 241.02,139.13" stroke="#8c1e1e" stroke-width="1.1"/>
</g>
<rect x="61.8" y="2.6" width="185.40" height="155.15" fill="none" stroke="#808080" stroke-width="2.0"/>
<path d="M67.98,157.75v-3M67.98,2.6v3M74.16,157.75v-1.6M74.16,2.6v1.6M80.34,157.75v-1.6M80.34,2.6v1.6M86.52,157.75v-1.6M86.52,2.6v1.6M92.70,157.75v-1.6M92.70,2.6v1.6M98.88,157.75v-1.6M98.88,2.6v1.6M105.06,157.75v-1.6M105.06,2.6v1.6M111.24,157.75v-3M111.24,2.6v3M117.42,157.75v-1.6M117.42,2.6v1.6M123.60,157.75v-1.6M123.60,2.6v1.6M129.78,157.75v-1.6M129.78,2.6v1.6M135.96,157.75v-1.6M135.96,2.6v1.6M142.14,157.75v-1.6M142.14,2.6v1.6M148.32,157.75v-1.6M148.32,2.6v1.6M154.50,157.75v-3M154.50,2.6v3M160.68,157.75v-1.6M160.68,2.6v1.6M166.86,157.75v-1.6M166.86,2.6v1.6M173.04,157.75v-1.6M173.04,2.6v1.6M179.22,157.75v-1.6M179.22,2.6v1.6M185.40,157.75v-1.6M185.40,2.6v1.6M191.58,157.75v-1.6M191.58,2.6v1.6M197.76,157.75v-3M197.76,2.6v3M203.94,157.75v-1.6M203.94,2.6v1.6M210.12,157.75v-1.6M210.12,2.6v1.6M216.30,157.75v-1.6M216.30,2.6v1.6M222.48,157.75v-1.6M222.48,2.6v1.6M228.66,157.75v-1.6M228.66,2.6v1.6M234.84,157.75v-1.6M234.84,2.6v1.6M241.02,157.75v-3M241.02,2.6v3M61.8,142.50h2M247.2,142.50h-3M247.2,126.50h-1.6M61.8,111.50h2M247.2,111.50h-3M247.2,95.50h-1.6M61.8,80.50h2M247.2,80.50h-3M247.2,64.50h-1.6M61.8,49.50h2M247.2,49.50h-3M247.2,33.50h-1.6M61.8,18.50h2M247.2,18.50h-3" stroke="#262626" stroke-width="1.2" fill="none"/>
<g font-size="12" fill="#111" text-anchor="end" stroke="#111">
<text x="59.8" y="22.4">2</text>
<text x="59.8" y="53.4">1</text>
<text x="59.8" y="84.5">0</text>
<text x="59.8" y="115.5">-1</text>
<text x="59.8" y="146.5">-2</text>
</g>
<g font-size="12" fill="#111" text-anchor="middle" stroke="#111">
<text x="67.2" y="171.0">-14</text>
<text x="110.4" y="171.0">-7</text>
<text x="153.7" y="171.0">0</text>
<text x="197.0" y="171.0">7</text>
<text x="240.2" y="171.0">14</text>
</g>
<text x="138.8" y="183" font-size="14.5" fill="#111" stroke="#111"><tspan font-style="italic">B</tspan> (T)</text>
<text transform="translate(43.1,116) rotate(-90)" font-size="14" fill="#111" stroke="#111"><tspan font-style="italic">ρ</tspan><tspan font-size="10" dy="3">xy</tspan><tspan dy="-3"> (μΩ·cm)</tspan></text>
<text x="-0.3" y="16.2" font-size="20" fill="#111" stroke="#111">(a)</text>
<text x="188.7" y="48.2" font-size="14" fill="#0c0cd8" stroke="#0c0cd8">2 K</text>
<text x="170.8" y="142.6" font-size="14.3" letter-spacing="-0.35" fill="#7a1414" stroke="#7a1414">120 K</text>
<path d="M182.9,46.9 C176,62 170.5,84 171.4,97.2 C172.2,112 178,120 188,120.2 L198,119.4" fill="none" stroke="#222" stroke-width="1.4" stroke-dasharray="1.3,1.7"/>
<path d="M203.6,117.6 L198.6,115.6 L199.2,120.3 Z" fill="#222"/>
<line x1="348.4" y1="141.42" x2="534.0" y2="141.42" stroke="#222" stroke-width="1" stroke-dasharray="2.2,2.2"/>
<line x1="480.8" y1="2.6" x2="480.8" y2="157.75" stroke="#1a1aff" stroke-width="1.8" stroke-dasharray="1.6,1.5"/>
<polyline points="358.20,41.30 361.30,45.60 364.30,18.50 366.40,31.00 370.00,31.00 372.00,40.00 377.00,42.00 384.00,57.00 398.30,73.50 412.80,84.20 426.70,93.20 440.90,106.40 455.20,119.50 469.30,125.30 483.80,143.70 490.50,144.40 497.90,143.30 512.50,144.80 526.60,143.30" fill="none" stroke="#ee1c1c" stroke-width="1.1"/>
<circle cx="358.2" cy="41.3" r="3.3" fill="#ee1111"/>
<ellipse cx="359.2" cy="41.3" rx="0.85" ry="2.0" fill="#fbe4e4"/>
<circle cx="361.3" cy="45.6" r="3.3" fill="#ee1111"/>
<ellipse cx="362.3" cy="45.6" rx="0.85" ry="2.0" fill="#fbe4e4"/>
<circle cx="364.3" cy="18.5" r="3.3" fill="#ee1111"/>
<ellipse cx="365.3" cy="18.5" rx="0.85" ry="2.0" fill="#fbe4e4"/>
<circle cx="366.4" cy="31" r="3.3" fill="#ee1111"/>
<ellipse cx="367.4" cy="31" rx="0.85" ry="2.0" fill="#fbe4e4"/>
<circle cx="370" cy="31" r="3.3" fill="#ee1111"/>
<ellipse cx="371.0" cy="31" rx="0.85" ry="2.0" fill="#fbe4e4"/>
<circle cx="372" cy="40" r="3.3" fill="#ee1111"/>
<ellipse cx="373.0" cy="40" rx="0.85" ry="2.0" fill="#fbe4e4"/>
<circle cx="377" cy="42" r="3.3" fill="#ee1111"/>
<ellipse cx="378.0" cy="42" rx="0.85" ry="2.0" fill="#fbe4e4"/>
<circle cx="384" cy="57" r="3.3" fill="#ee1111"/>
<ellipse cx="385.0" cy="57" rx="0.85" ry="2.0" fill="#fbe4e4"/>
<circle cx="398.3" cy="73.5" r="3.3" fill="#ee1111"/>
<ellipse cx="399.3" cy="73.5" rx="0.85" ry="2.0" fill="#fbe4e4"/>
<circle cx="412.8" cy="84.2" r="3.3" fill="#ee1111"/>
<ellipse cx="413.8" cy="84.2" rx="0.85" ry="2.0" fill="#fbe4e4"/>
<circle cx="426.7" cy="93.2" r="3.3" fill="#ee1111"/>
<ellipse cx="427.7" cy="93.2" rx="0.85" ry="2.0" fill="#fbe4e4"/>
<circle cx="440.9" cy="106.4" r="3.3" fill="#ee1111"/>
<ellipse cx="441.9" cy="106.4" rx="0.85" ry="2.0" fill="#fbe4e4"/>
<circle cx="455.2" cy="119.5" r="3.3" fill="#ee1111"/>
<ellipse cx="456.2" cy="119.5" rx="0.85" ry="2.0" fill="#fbe4e4"/>
<circle cx="469.3" cy="125.3" r="3.3" fill="#ee1111"/>
<ellipse cx="470.3" cy="125.3" rx="0.85" ry="2.0" fill="#fbe4e4"/>
<circle cx="483.8" cy="143.7" r="3.3" fill="#ee1111"/>
<ellipse cx="484.8" cy="143.7" rx="0.85" ry="2.0" fill="#fbe4e4"/>
<circle cx="490.5" cy="144.4" r="3.3" fill="#ee1111"/>
<ellipse cx="491.5" cy="144.4" rx="0.85" ry="2.0" fill="#fbe4e4"/>
<circle cx="497.9" cy="143.3" r="3.3" fill="#ee1111"/>
<ellipse cx="498.9" cy="143.3" rx="0.85" ry="2.0" fill="#fbe4e4"/>
<circle cx="512.5" cy="144.8" r="3.3" fill="#ee1111"/>
<ellipse cx="513.5" cy="144.8" rx="0.85" ry="2.0" fill="#fbe4e4"/>
<circle cx="526.6" cy="143.3" r="3.3" fill="#ee1111"/>
<ellipse cx="527.6" cy="143.3" rx="0.85" ry="2.0" fill="#fbe4e4"/>
<rect x="348.4" y="2.6" width="185.60" height="155.15" fill="none" stroke="#5c5c5c" stroke-width="1.6"/>
<path d="M355.54,157.75v-3M355.54,2.6v3M369.82,157.75v-1.6M369.82,2.6v1.6M384.09,157.75v-1.6M384.09,2.6v1.6M398.37,157.75v-3M398.37,2.6v3M412.65,157.75v-1.6M412.65,2.6v1.6M426.92,157.75v-1.6M426.92,2.6v1.6M441.20,157.75v-3M441.20,2.6v3M455.48,157.75v-1.6M455.48,2.6v1.6M469.75,157.75v-1.6M469.75,2.6v1.6M484.03,157.75v-3M484.03,2.6v3M498.31,157.75v-1.6M498.31,2.6v1.6M512.58,157.75v-1.6M512.58,2.6v1.6M526.86,157.75v-3M526.86,2.6v3M348.4,141.42h3M534.0,141.42h-3M348.4,121.00h1.8M534.0,121.00h-1.8M348.4,100.59h3M534.0,100.59h-3M348.4,80.17h1.8M534.0,80.17h-1.8M348.4,59.76h3M534.0,59.76h-3M348.4,39.35h1.8M534.0,39.35h-1.8M348.4,18.93h3M534.0,18.93h-3" stroke="#262626" stroke-width="1.2" fill="none"/>
<g font-size="12" fill="#111" text-anchor="end" stroke="#111">
<text x="347.2" y="23.2">0.15</text>
<text x="347.2" y="64.1">0.10</text>
<text x="347.2" y="104.9">0.05</text>
<text x="347.2" y="145.7">0.00</text>
</g>
<g font-size="12" fill="#111" text-anchor="middle" stroke="#111">
<text x="354.7" y="171.0">0</text>
<text x="397.6" y="171.0">30</text>
<text x="440.4" y="171.0">60</text>
<text x="483.2" y="171.0">90</text>
<text x="526.1" y="171.0">120</text>
</g>
<text x="425.4" y="185.1" font-size="14.5" fill="#111" stroke="#111"><tspan font-style="italic">T</tspan> (K)</text>
<text transform="translate(315,120) rotate(-90)" font-size="14" fill="#111" stroke="#111">Δ<tspan font-style="italic">ρ</tspan><tspan font-size="10" dy="3">xy</tspan><tspan dy="-3">(μΩ·cm)</tspan></text>
<text x="271" y="14.6" font-size="20" fill="#111" stroke="#111">(b)</text>
<text x="487" y="106" font-size="15" fill="#1a1aff" font-style="italic" stroke="#1a1aff">T</text>
<text x="496" y="109" font-size="10" fill="#1a1aff" stroke="#1a1aff">CDW</text>
<line x1="491.6" y1="113.6" x2="485" y2="131" stroke="#1a1aff" stroke-width="1.3"/>
<path d="M482.6,137.2 L482.3,129.2 L487.6,131.2 Z" fill="#1a1aff"/>
<g transform="translate(142.05,295.90000000000003) skewY(-0.5) scale(1.022,1)">
<path d="M-33.55,-58.1 C-35.0,-71 -9.6,-98.2 0,-98.2 C9.6,-98.2 35.0,-71 33.55,-58.1 C20,-51.03 -20,-51.03 -33.55,-58.1 Z" fill="#fa6868" transform="rotate(0)"/>
<path d="M-33.55,-58.1 C-35.2,-71 -9.6,-98.0 0,-98.0 C9.6,-98.0 35.2,-71 33.55,-58.1 C20,-49.97 -20,-49.97 -33.55,-58.1 Z" fill="#fa6868" transform="rotate(60)"/>
<path d="M-33.55,-58.1 C-35.2,-71 -9.6,-98.0 0,-98.0 C9.6,-98.0 35.2,-71 33.55,-58.1 C20,-49.97 -20,-49.97 -33.55,-58.1 Z" fill="#fa6868" transform="rotate(120)"/>
<path d="M-33.55,-58.1 C-34.5,-71 -9.6,-95.9 0,-95.9 C9.6,-95.9 34.5,-71 33.55,-58.1 C20,-47.30 -20,-47.30 -33.55,-58.1 Z" fill="#fa6868" transform="rotate(180)"/>
<path d="M-33.55,-58.1 C-35.2,-71 -9.6,-98.0 0,-98.0 C9.6,-98.0 35.2,-71 33.55,-58.1 C20,-49.97 -20,-49.97 -33.55,-58.1 Z" fill="#fa6868" transform="rotate(240)"/>
<path d="M-33.55,-58.1 C-35.2,-71 -9.6,-98.0 0,-98.0 C9.6,-98.0 35.2,-71 33.55,-58.1 C20,-49.97 -20,-49.97 -33.55,-58.1 Z" fill="#fa6868" transform="rotate(300)"/>
</g>
<circle cx="141.5" cy="297.5" r="21" fill="#fa6868"/>
<path d="M142.80,217.70 L210.50,256.10 L210.70,332.50 L141.60,372.80 L73.50,333.30 L73.70,258.20 Z" fill="none" stroke="#000" stroke-width="2.35" stroke-dasharray="3.7,4.6" stroke-dashoffset="4.8" stroke-linecap="round" stroke-linejoin="round"/>
<text x="143.5" y="313" style="font-family:'Liberation Serif',serif" font-size="20" fill="#000" text-anchor="middle" stroke="#000">Γ</text>
<g transform="translate(427.3,295.25) scale(1.012,1)">
<path d="M-25.2,-60 C-30,-66 -8.7,-96.8 0,-96.8 C8.7,-96.8 30,-66 25.2,-60 C16,-54.2 -16,-54.2 -25.2,-60 Z" fill="#fa6868" stroke="#fa6868" stroke-width="2.4" stroke-linejoin="round" transform="rotate(0)"/>
<path d="M-25.2,-60 C-30,-66 -8.7,-96.8 0,-96.8 C8.7,-96.8 30,-66 25.2,-60 C16,-54.2 -16,-54.2 -25.2,-60 Z" fill="#fa6868" stroke="#fa6868" stroke-width="2.4" stroke-linejoin="round" transform="rotate(60)"/>
<path d="M-25.2,-60 C-30,-66 -8.7,-96.8 0,-96.8 C8.7,-96.8 30,-66 25.2,-60 C16,-54.2 -16,-54.2 -25.2,-60 Z" fill="#fa6868" stroke="#fa6868" stroke-width="2.4" stroke-linejoin="round" transform="rotate(120)"/>
<path d="M-25.2,-60 C-30,-66 -8.7,-96.8 0,-96.8 C8.7,-96.8 30,-66 25.2,-60 C16,-54.2 -16,-54.2 -25.2,-60 Z" fill="#fa6868" stroke="#fa6868" stroke-width="2.4" stroke-linejoin="round" transform="rotate(180)"/>
<path d="M-25.2,-60 C-30,-66 -8.7,-96.8 0,-96.8 C8.7,-96.8 30,-66 25.2,-60 C16,-54.2 -16,-54.2 -25.2,-60 Z" fill="#fa6868" stroke="#fa6868" stroke-width="2.4" stroke-linejoin="round" transform="rotate(240)"/>
<path d="M-25.2,-60 C-30,-66 -8.7,-96.8 0,-96.8 C8.7,-96.8 30,-66 25.2,-60 C16,-54.2 -16,-54.2 -25.2,-60 Z" fill="#fa6868" stroke="#fa6868" stroke-width="2.4" stroke-linejoin="round" transform="rotate(300)"/>
</g>
<circle cx="427.3" cy="295.3" r="20.7" fill="#fa6868"/>
<path d="M428.50,221.00 L493.00,257.80 L493.20,330.00 L428.00,369.30 L361.90,331.40 L362.20,258.50 Z" fill="none" stroke="#000" stroke-width="2.35" stroke-dasharray="3.7,4.6" stroke-dashoffset="4.8" stroke-linecap="round" stroke-linejoin="round"/>
<text x="428.8" y="307.4" style="font-family:'Liberation Serif',serif" font-size="20" fill="#000" text-anchor="middle" stroke="#000">Γ</text>
<line x1="80.33" y1="292.43" x2="167.57" y2="240.97" stroke="#0a0aff" stroke-width="2"/><path d="M174.80,236.70 L168.04,245.91 L163.47,238.16 Z" fill="#0a0aff"/><path d="M73.10,296.70 L84.43,295.24 L79.86,287.49 Z" fill="#0a0aff"/>
<line x1="114.13" y1="241.50" x2="202.97" y2="291.20" stroke="#0a0aff" stroke-width="2"/><path d="M210.30,295.30 L198.94,294.10 L203.33,286.25 Z" fill="#0a0aff"/><path d="M106.80,237.40 L113.77,246.45 L118.16,238.60 Z" fill="#0a0aff"/>
<line x1="174.84" y1="245.10" x2="175.26" y2="345.00" stroke="#0a0aff" stroke-width="2"/><path d="M175.30,353.40 L170.76,342.92 L179.75,342.88 Z" fill="#0a0aff"/><path d="M174.80,236.70 L170.35,247.22 L179.34,247.18 Z" fill="#0a0aff"/>
<g fill="#0a0aff" font-size="15.5" style="stroke-width:0.12px" stroke="#0a0aff"><text x="102.1" y="263.3">Q<tspan font-size="10.5" dx="0.8" dy="6">1</tspan></text><text x="152.3" y="281.3">Q<tspan font-size="10.5" dx="0.6" dy="6">2</tspan></text><text x="176.9" y="309.3">Q<tspan font-size="10.5" dx="0.6" dy="6">3</tspan></text></g>
<text x="136.9" y="213.1" font-size="19.8" fill="#000" stroke="#000">K</text>
<text x="174.1" y="232.6" font-size="19.6" fill="#000" stroke="#000">M</text>
<text x="16.4" y="215.2" font-size="20" fill="#000" stroke="#000">(c)</text>
<line x1="239.5" y1="300.7" x2="318" y2="300.7" stroke="#000" stroke-width="1.2"/>
<path d="M325.8,300.7 L315.6,295.8 L315.6,305.6 Z" fill="#000"/>
<text x="244.3" y="284.5" font-size="19" fill="#000" font-style="italic" stroke="#000">T</text><text x="260.9" y="284.5" font-size="19" fill="#000" stroke="#000">&lt;</text><text x="278.6" y="284.5" font-size="19" fill="#000" font-style="italic" stroke="#000">T</text>
<text x="290.6" y="290.2" font-size="13.5" fill="#000" stroke="#000">CDW</text>
<text x="421.5" y="216.1" font-size="19.5" fill="#000" stroke="#000">K</text>
<text x="455.9" y="236.9" font-size="19" fill="#000" stroke="#000">M</text><text x="477.9" y="236.9" font-size="19" fill="#000" stroke="#000">(</text><text x="484.4" y="236.9" font-size="19.5" fill="#0a0aff" stroke="#0a0aff">Hot spots</text><text x="567.1" y="236.9" font-size="19" fill="#000" stroke="#000">)</text>
</svg></body></html>
